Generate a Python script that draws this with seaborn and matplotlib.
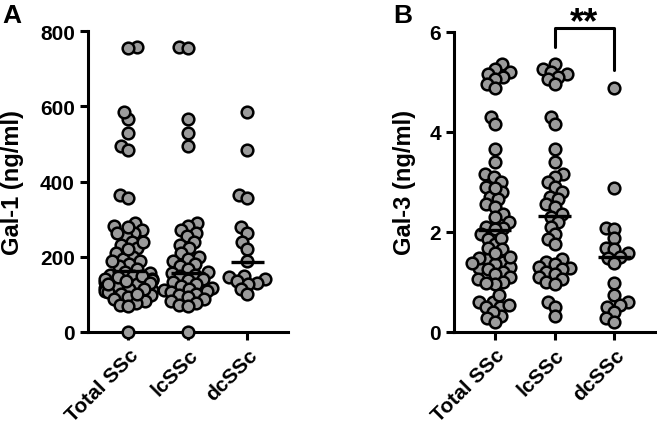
import pandas as pd
import numpy as np
import matplotlib.pyplot as plt
import seaborn as sns

#-------------------------------------------------
l_grp=['Total SSc', 'lcSSc', 'dcSSc']

# Gal-1 (ng/ml)
lc_a=[757, 755, 566, 528, 495, 290, 282, 270, 262, 255, 240, 232, 222, 210, 200,
      195, 188, 180, 175, 168, 160, 157, 152, 148, 142, 138, 132, 128, 122, 118,
      115, 112, 108, 105, 102, 98, 93, 88, 82, 78, 72, 68, 0]
dc_a=[585, 484, 365, 356, 278, 262, 238, 220, 188, 148, 145, 140, 135, 130, 128, 115, 100]
total_a=lc_a+dc_a
med_a=[161, 157, 187]

# Gal-3 (ng/ml)
lc_b=[5.35, 5.25, 5.2, 5.15, 5.1, 5.05, 4.95, 4.3, 4.15, 3.65, 3.4, 3.15, 3.1, 3.0,
      2.9, 2.8, 2.7, 2.65, 2.55, 2.5, 2.35, 2.3, 2.2, 2.1, 1.95, 1.85, 1.75, 1.45,
      1.4, 1.35, 1.3, 1.28, 1.25, 1.2, 1.15, 1.1, 1.05, 1.0, 0.95, 0.6, 0.5, 0.32]
dc_b=[4.88, 2.88, 2.07, 2.05, 1.87, 1.67, 1.65, 1.57, 1.5, 1.48, 1.37, 0.97, 0.73,
      0.6, 0.53, 0.5, 0.4, 0.27, 0.2]
total_b=lc_b+dc_b
med_b=[2.03, 2.31, 1.5]

#-------------------------------------------------
def mk_df(l_val):
    l=[]
    for grp, val in zip(l_grp, l_val):
        l.append(pd.DataFrame({'grp': grp, 'val': val}))
    df=pd.concat(l, ignore_index=True)
    df['grp']=pd.Categorical(df['grp'], categories=l_grp, ordered=True)
    return df

def plt_dots(ax, df, med, ylim, yticks, ylabel, lab_x):
    #swarm laid out with small dots so that the big dots overlap like prism
    sns.swarmplot(x='grp', y='val', data=df, ax=ax, color='#9b9b9b', size=4.2,
                  edgecolor='black', linewidth=1.8, zorder=3)
    ax.hlines(med, np.arange(3)-0.28, np.arange(3)+0.28, color='black', lw=2.4, zorder=4)
    #adjust
    ax.set_xlim(-0.68, 2.68)
    ax.set_ylim(*ylim)
    ax.set_yticks(yticks)
    ax.set_xlabel('')
    ax.set_ylabel(ylabel, fontsize=17, weight='bold')
    ax.yaxis.set_label_coords(lab_x, 0.5)
    sns.despine(ax=ax)
    for s in ['left', 'bottom']:
        ax.spines[s].set_linewidth(2.2)
    ax.tick_params(width=2.2, length=6, labelsize=15, color='black', labelcolor='black')
    for t in ax.get_yticklabels():
        t.set_weight('bold')
    plt.setp(ax.get_xticklabels(), rotation=45, ha='right', rotation_mode='anchor', weight='bold')
    return

def fix_dots(ax, sz=8.4):
    for c in ax.collections:
        if 'draw' in c.__dict__:
            del c.draw
            c.set_sizes([sz**2])
            c.set_clip_on(False)
    return

#################################################################
sns.set_style('ticks')
plt.rcParams['font.family']=['Liberation Sans', 'DejaVu Sans']
plt.rcParams['text.color']='black'
plt.rcParams['axes.labelcolor']='black'
plt.rcParams['axes.edgecolor']='black'

fig=plt.figure(figsize=(6.57, 4.39), dpi=100)
ax1=fig.add_axes([0.134, 0.2415, 0.304, 0.6855])
ax2=fig.add_axes([0.691, 0.2415, 0.306, 0.684])

plt_dots(ax1, mk_df([total_a, lc_a, dc_a]), med_a, (0, 800), [0, 200, 400, 600, 800], 'Gal-1 (ng/ml)', -0.32)
plt_dots(ax2, mk_df([total_b, lc_b, dc_b]), med_b, (0, 6), [0, 2, 4, 6], 'Gal-3 (ng/ml)', -0.19)

# significance bracket lcSSc vs dcSSc
ax2.plot([1, 1, 2, 2], [5.7, 6.08, 6.08, 5.24], color='black', lw=2.2, clip_on=False)
ax2.text(1.5, 6.0, '**', ha='center', va='baseline', fontsize=26, weight='bold')

fig.text(0.003, 0.99, 'A', fontsize=19, weight='bold', va='top')
fig.text(0.598, 0.99, 'B', fontsize=19, weight='bold', va='top')

fig.canvas.draw()
fix_dots(ax1)
fix_dots(ax2)

plt.savefig('out.png', dpi=100)
plt.close()
